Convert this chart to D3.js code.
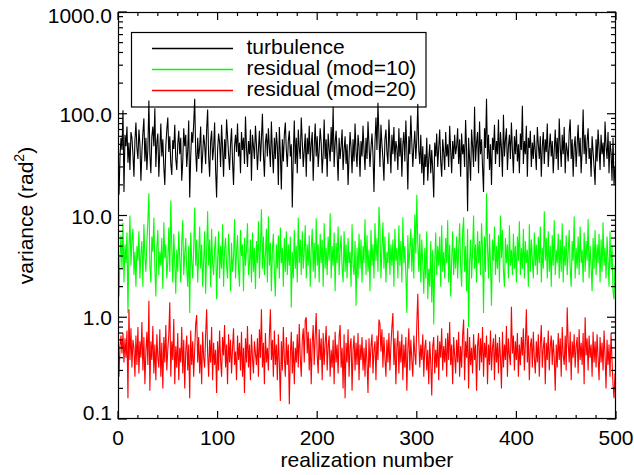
<!DOCTYPE html>
<html>
<head>
<meta charset="utf-8">
<script src="https://cdn.jsdelivr.net/npm/d3@7"></script>
<style>
  body { margin: 0; background: #fff; }
  svg { display: block; }
  text { font-family: "Liberation Sans", Arial, Helvetica, sans-serif; fill: #000; }
</style>
</head>
<body>
<svg id="chart" width="634" height="475"></svg>
<script>
// variance per realization
const turbulence = [
  30, 16, 38, 58, 44, 108, 17, 62, 48, 75, 33, 52, 28, 66, 58, 40, 24, 55, 82, 46,
  36, 70, 50, 22, 42, 65, 90, 34, 58, 28, 46, 135, 40, 26, 60, 75, 48, 113, 30, 52,
  64, 24, 44, 80, 38, 56, 30, 20, 48, 70, 92, 42, 60, 32, 25, 55, 45, 78, 36, 28,
  50, 68, 40, 58, 22, 34, 72, 48, 62, 30, 44, 86, 15, 38, 66, 52, 80, 140, 42, 27,
  58, 36, 48, 75, 26, 40, 62, 50, 32, 70, 110, 38, 24, 54, 68, 35, 46, 82, 28, 15,
  44, 64, 52, 30, 78, 46, 24, 56, 36, 88, 60, 40, 28, 50, 72, 34, 20, 48, 62, 42,
  80, 38, 52, 26, 66, 44, 58, 32, 94, 46, 30, 54, 40, 70, 22, 62, 48, 36, 76, 50,
  28, 45, 68, 34, 56, 100, 40, 24, 52, 64, 38, 72, 46, 30, 84, 42, 26, 58, 36, 66,
  48, 20, 74, 40, 18, 56, 34, 62, 82, 44, 30, 54, 68, 38, 50, 12, 40, 86, 32, 58,
  26, 70, 46, 36, 92, 54, 30, 44, 64, 24, 58, 40, 76, 34, 50, 66, 22, 48, 80, 38,
  60, 30, 44, 72, 52, 26, 40, 88, 36, 56, 24, 64, 46, 34, 74, 42, 117, 30, 52, 68,
  40, 22, 58, 36, 48, 70, 28, 44, 60, 32, 50, 20, 38, 66, 46, 26, 56, 34, 80, 42,
  30, 62, 48, 24, 54, 38, 76, 44, 28, 58, 36, 84, 50, 30, 46, 64, 40, 17, 52, 92,
  44, 128, 60, 30, 78, 50, 36, 22, 56, 70, 42, 32, 88, 48, 26, 62, 40, 74, 34, 54,
  46, 28, 72, 38, 58, 24, 50, 66, 34, 86, 44, 18, 60, 40, 96, 52, 30, 48, 68, 36,
  56, 125, 44, 32, 62, 26, 48, 20, 40, 30, 58, 22, 36, 50, 26, 44, 28, 15, 52, 38,
  64, 30, 46, 70, 34, 24, 56, 42, 28, 66, 38, 50, 30, 76, 44, 26, 54, 36, 62, 40,
  48, 72, 32, 56, 24, 64, 40, 50, 30, 87, 44, 11, 58, 36, 22, 70, 48, 30, 117, 34,
  52, 66, 26, 84, 40, 56, 30, 17, 72, 46, 140, 36, 62, 28, 50, 20, 58, 44, 78, 32,
  54, 40, 88, 30, 66, 46, 24, 98, 38, 56, 72, 28, 48, 62, 36, 82, 44, 26, 60, 40,
  70, 34, 50, 26, 64, 44, 120, 32, 54, 40, 76, 24, 58, 46, 68, 30, 52, 36, 62, 42,
  28, 74, 50, 36, 60, 24, 48, 66, 32, 56, 42, 80, 30, 46, 64, 38, 54, 26, 44, 70,
  36, 58, 28, 90, 48, 30, 62, 40, 74, 26, 52, 44, 34, 66, 88, 36, 56, 24, 48, 60,
  30, 50, 78, 38, 58, 26, 44, 110, 40, 62, 32, 54, 72, 36, 46, 24, 60, 42, 30, 20,
  56, 34, 70, 46, 28, 62, 40, 52, 30, 84, 48, 36, 66, 26, 54, 42, 22, 58, 20, 30
];

const residualMod10 = [
  2.4, 1.6, 3.8, 6.4, 3.0, 8.5, 2.2, 5.2, 3.4, 6.8, 1.1, 4.6, 10.0, 3.2, 5.8, 7.4, 2.6, 4.4, 2.0, 5.0,
  3.6, 7.0, 2.4, 4.2, 5.6, 2.0, 8.2, 4.0, 2.8, 5.4, 9.0, 16.5, 3.2, 2.2, 6.2, 4.4, 9.5, 3.0, 1.6, 4.8,
  7.2, 2.6, 4.4, 3.2, 6.0, 1.9, 8.6, 3.8, 5.2, 2.4, 3.6, 7.6, 2.8, 14.0, 5.0, 2.2, 6.6, 3.4, 1.7, 4.6,
  2.8, 7.0, 3.8, 2.2, 5.4, 9.0, 2.6, 4.2, 6.0, 3.0, 2.0, 5.0, 1.1, 6.8, 3.6, 2.4, 4.8, 12.0, 3.2, 5.8,
  2.2, 4.0, 7.8, 3.0, 5.2, 2.0, 3.6, 7.0, 1.7, 4.4, 11.0, 3.2, 5.8, 2.0, 7.4, 3.4, 2.6, 4.8, 6.2, 1.5,
  3.6, 7.0, 2.4, 5.0, 3.0, 8.2, 2.0, 4.6, 6.0, 3.2, 2.4, 6.6, 4.0, 1.8, 5.4, 2.8, 3.8, 9.2, 2.4, 4.4,
  6.4, 3.0, 2.0, 7.2, 4.0, 5.2, 1.8, 6.0, 3.2, 4.6, 8.4, 2.6, 3.4, 5.8, 2.2, 6.8, 2.8, 4.8, 1.9, 5.6,
  3.4, 8.8, 2.4, 5.0, 11.5, 3.0, 6.2, 2.6, 4.2, 7.4, 2.2, 9.8, 3.2, 5.4, 1.8, 4.6, 6.6, 2.8, 1.6, 5.2,
  3.0, 6.4, 2.4, 7.6, 3.4, 4.8, 2.0, 6.0, 2.8, 7.0, 2.6, 5.2, 3.2, 6.2, 1.25, 4.4, 2.4, 7.2, 3.0, 5.0,
  2.2, 9.5, 3.4, 5.8, 2.6, 7.0, 3.0, 4.4, 8.0, 2.4, 5.2, 3.2, 6.4, 2.0, 4.8, 7.4, 2.8, 5.4, 2.4, 9.4,
  3.2, 5.2, 2.2, 6.6, 3.4, 5.8, 2.0, 8.4, 3.0, 4.8, 2.6, 6.2, 3.6, 10.5, 2.4, 5.0, 3.2, 6.8, 1.8, 5.4,
  3.4, 7.8, 2.6, 4.6, 6.4, 3.0, 2.2, 7.0, 2.8, 5.2, 2.4, 6.0, 3.4, 4.4, 2.0, 8.2, 3.2, 2.6, 5.6, 1.3,
  4.8, 2.4, 6.6, 3.0, 5.8, 2.2, 5.0, 3.4, 9.2, 2.6, 6.4, 2.8, 4.6, 1.8, 7.2, 3.2, 5.2, 2.4, 8.4, 3.6,
  6.0, 2.8, 12.2, 7.4, 2.4, 4.8, 8.6, 3.0, 6.2, 2.2, 4.4, 3.4, 6.8, 2.6, 5.2, 3.2, 5.8, 2.0, 7.4, 3.6,
  4.8, 2.4, 8.0, 3.2, 5.6, 2.2, 9.6, 3.4, 5.0, 2.6, 1.1, 6.4, 3.0, 4.6, 7.4, 2.8, 6.0, 2.4, 10.2, 4.2,
  16.0, 5.2, 2.8, 6.6, 2.2, 5.8, 3.4, 1.7, 4.8, 2.4, 7.0, 1.5, 3.0, 2.0, 5.6, 1.4, 4.6, 0.85, 3.4, 6.8,
  2.6, 5.0, 3.2, 6.2, 2.0, 8.0, 2.8, 4.4, 2.4, 6.0, 3.4, 9.0, 2.2, 5.2, 1.6, 3.6, 7.0, 2.6, 4.8, 3.0,
  6.2, 2.4, 4.6, 8.4, 3.2, 2.0, 6.8, 9.6, 2.8, 5.0, 1.8, 7.4, 0.8, 3.4, 5.8, 2.4, 4.4, 10.0, 3.0, 5.2,
  2.2, 7.0, 3.4, 5.6, 2.6, 8.4, 4.6, 1.1, 6.2, 2.8, 16.5, 4.8, 2.4, 6.6, 3.2, 1.3, 5.8, 3.6, 7.8, 2.6,
  5.0, 3.0, 6.4, 2.2, 10.0, 3.8, 7.2, 2.8, 2.0, 6.0, 3.4, 5.2, 2.4, 8.0, 3.2, 4.6, 2.6, 6.6, 3.0, 5.0,
  2.2, 6.2, 3.6, 8.8, 2.6, 4.8, 3.0, 7.4, 2.4, 5.6, 3.4, 4.6, 2.0, 8.2, 2.8, 5.8, 3.8, 2.4, 6.8, 3.2,
  5.2, 2.6, 6.2, 3.4, 7.8, 2.2, 4.8, 3.0, 11.0, 3.6, 6.0, 2.4, 7.0, 2.8, 5.0, 2.0, 6.4, 3.2, 9.0, 2.6,
  4.6, 3.4, 6.6, 2.4, 5.8, 2.8, 8.4, 2.2, 5.0, 3.2, 6.4, 2.6, 4.4, 7.2, 3.0, 2.0, 5.6, 3.6, 9.8, 2.4,
  4.8, 3.0, 6.2, 2.6, 7.8, 3.4, 4.6, 2.2, 6.8, 2.8, 5.6, 3.6, 9.2, 2.4, 5.0, 3.2, 1.8, 6.0, 3.0, 7.2,
  2.6, 5.2, 3.4, 6.6, 2.2, 5.8, 2.8, 8.6, 3.2, 4.8, 2.4, 6.2, 3.6, 2.0, 7.0, 3.0, 5.0, 1.8, 1.5, 3.2
];

const residualMod20 = [
  0.30, 0.26, 0.52, 0.66, 0.44, 0.70, 0.36, 0.62, 0.40, 0.74, 0.16, 1.20, 0.38, 0.78, 0.32, 0.60, 0.50, 0.26, 0.66, 0.34,
  0.80, 0.28, 0.58, 0.40, 0.90, 0.30, 0.64, 0.22, 0.46, 0.72, 0.34, 1.45, 0.19, 0.58, 0.38, 0.82, 0.28, 0.54, 0.24, 0.68,
  0.40, 0.32, 0.76, 0.26, 0.56, 0.20, 0.64, 0.36, 0.84, 0.30, 0.48, 0.68, 1.40, 0.26, 0.58, 0.38, 0.96, 0.22, 0.52, 0.32,
  0.70, 0.24, 0.50, 0.36, 0.80, 0.28, 0.60, 0.20, 0.46, 0.66, 0.30, 0.54, 0.16, 0.74, 0.34, 0.58, 0.26, 0.48, 0.86, 1.05,
  0.36, 0.64, 0.28, 0.54, 0.22, 0.72, 0.40, 0.32, 0.68, 1.20, 0.44, 0.26, 0.60, 0.36, 0.80, 0.24, 0.56, 0.34, 0.48, 0.18,
  0.58, 0.30, 0.74, 0.38, 0.26, 0.64, 0.42, 0.84, 0.32, 0.54, 0.22, 0.68, 0.36, 0.60, 0.28, 0.50, 0.78, 0.34, 0.46, 0.24,
  0.66, 0.38, 0.56, 0.30, 0.72, 0.26, 0.50, 0.18, 0.62, 0.36, 0.82, 0.32, 0.54, 0.24, 0.68, 0.40, 0.28, 0.58, 0.44, 0.34,
  0.62, 0.26, 0.76, 0.40, 1.20, 0.32, 0.56, 0.22, 0.70, 0.36, 0.50, 0.30, 0.66, 1.20, 0.38, 0.60, 0.26, 0.74, 0.34, 0.54,
  0.24, 0.68, 0.36, 0.15, 0.58, 0.30, 0.80, 0.40, 0.26, 0.64, 0.34, 0.54, 0.14, 0.42, 0.72, 0.28, 0.58, 0.22, 0.50, 0.36,
  0.68, 0.32, 0.86, 0.40, 0.26, 0.60, 0.78, 0.36, 0.94, 1.00, 0.44, 0.72, 0.30, 0.62, 0.22, 0.56, 0.84, 0.34, 0.66, 1.10,
  0.42, 0.28, 0.76, 0.38, 0.62, 0.24, 0.70, 0.34, 0.56, 0.82, 0.30, 0.52, 0.66, 0.26, 0.48, 0.32, 0.60, 0.22, 0.72, 0.36,
  0.54, 0.28, 0.64, 0.84, 0.32, 0.50, 0.20, 0.68, 0.16, 0.56, 0.36, 0.76, 0.26, 0.52, 0.62, 0.19, 0.48, 0.66, 0.30, 0.56,
  0.34, 0.70, 0.24, 0.54, 0.38, 0.64, 0.30, 0.50, 0.26, 0.60, 0.36, 0.18, 0.62, 0.32, 0.52, 0.68, 0.28, 0.48, 0.58, 0.24,
  0.66, 0.38, 0.95, 0.86, 0.46, 0.76, 0.32, 0.64, 0.40, 0.26, 0.60, 0.36, 0.70, 0.30, 0.52, 0.80, 1.10, 0.34, 0.62, 0.22,
  0.50, 0.74, 0.28, 0.58, 0.36, 0.68, 0.24, 0.54, 0.32, 0.64, 0.19, 0.48, 0.78, 0.30, 0.60, 0.38, 0.26, 0.66, 0.44, 0.34,
  0.86, 1.70, 0.60, 0.32, 0.54, 0.38, 0.68, 0.26, 0.50, 0.60, 0.30, 0.48, 0.22, 0.58, 0.36, 0.17, 0.52, 0.64, 0.28, 0.48,
  0.32, 0.66, 0.24, 0.58, 0.40, 0.78, 0.30, 0.52, 0.36, 0.62, 0.26, 0.70, 0.38, 0.90, 0.34, 0.54, 0.22, 0.64, 0.42, 0.28,
  0.60, 0.36, 0.72, 0.26, 0.52, 0.32, 0.66, 0.95, 0.24, 0.58, 0.40, 0.78, 0.20, 0.64, 0.34, 0.50, 0.28, 0.68, 0.38, 0.54,
  0.19, 0.52, 0.70, 0.30, 0.62, 0.36, 0.80, 0.26, 0.56, 0.40, 0.66, 0.22, 0.54, 0.34, 0.74, 0.30, 0.50, 0.62, 0.24, 0.68,
  0.36, 0.56, 0.28, 0.64, 0.40, 0.20, 0.72, 0.32, 0.54, 0.38, 0.82, 0.26, 0.62, 0.42, 0.34, 1.27, 0.44, 0.66, 0.30, 0.58,
  0.38, 0.70, 0.26, 0.54, 0.34, 0.64, 0.42, 0.78, 0.30, 0.56, 1.20, 0.36, 0.66, 0.24, 0.52, 0.62, 0.32, 0.72, 0.40, 0.28,
  0.58, 0.36, 0.68, 0.26, 0.54, 0.84, 0.32, 0.50, 0.64, 0.22, 0.56, 0.38, 0.74, 0.30, 0.52, 0.66, 0.34, 0.60, 0.40, 0.19,
  0.54, 0.32, 0.70, 0.38, 0.62, 0.26, 0.80, 0.42, 0.34, 0.66, 0.30, 1.25, 0.56, 0.36, 0.72, 0.24, 0.58, 0.40, 0.68, 0.32,
  0.52, 0.64, 0.28, 0.76, 0.38, 0.56, 0.34, 0.70, 0.22, 1.00, 0.42, 0.62, 0.30, 0.66, 0.40, 0.54, 0.26, 0.72, 0.36, 0.58,
  0.32, 0.68, 0.40, 0.24, 0.64, 0.36, 0.56, 0.30, 0.74, 0.42, 0.20, 0.60, 0.34, 0.54, 0.26, 0.70, 0.38, 0.22, 0.16, 0.28
];

const seriesNames = ["turbulence", "residual (mod=10)", "residual (mod=20)"];
const seriesColors = ["#000000", "#00ff00", "#ff0000"];

const xTicks = [0, 100, 200, 300, 400, 500];
const xTickLabels = ["0", "100", "200", "300", "400", "500"];
const yTicks = [0.1, 1, 10, 100, 1000];
const yTickLabels = ["0.1", "1.0", "10.0", "100.0", "1000.0"];

const margin = { left: 118, top: 12, right: 616, bottom: 419 };

const svg = d3.select("#chart");

const x = d3.scaleLinear().domain([0, 500]).range([margin.left, margin.right]);
const y = d3.scaleLog().domain([0.1, 1000]).range([margin.bottom, margin.top]);

svg.append("clipPath").attr("id", "plot-clip")
  .append("rect")
  .attr("x", margin.left).attr("y", margin.top)
  .attr("width", margin.right - margin.left)
  .attr("height", margin.bottom - margin.top);

// data lines
const line = d3.line()
  .x(function (d, i) { return x(i); })
  .y(function (d) { return y(d); });

const plot = svg.append("g").attr("clip-path", "url(#plot-clip)");
[turbulence, residualMod10, residualMod20].forEach(function (s, k) {
  plot.append("path")
    .datum(s)
    .attr("fill", "none")
    .attr("stroke", seriesColors[k])
    .attr("stroke-width", 1.1)
    .attr("d", line);
});

// frame
svg.append("rect")
  .attr("x", margin.left + 0.5).attr("y", margin.top + 0.5)
  .attr("width", margin.right - margin.left - 1)
  .attr("height", margin.bottom - margin.top - 1)
  .attr("fill", "none").attr("stroke", "#000").attr("stroke-width", 1.2);

// ticks (IDL style, pointing inward on all four sides)
const xMinor = d3.range(0, 501, 20).filter(function (v) { return v % 100 !== 0; });
const yMinor = [];
yTicks.slice(0, -1).forEach(function (t) {
  d3.range(2, 10).forEach(function (m) { yMinor.push(t * m); });
});

const ticks = svg.append("g").attr("stroke", "#000").attr("stroke-width", 1.2);

function xTickLines(values, len) {
  ticks.selectAll(null).data(values).enter().append("line")
    .attr("x1", function (d) { return x(d); }).attr("x2", function (d) { return x(d); })
    .attr("y1", margin.bottom).attr("y2", margin.bottom - len);
  ticks.selectAll(null).data(values).enter().append("line")
    .attr("x1", function (d) { return x(d); }).attr("x2", function (d) { return x(d); })
    .attr("y1", margin.top).attr("y2", margin.top + len);
}
function yTickLines(values, len) {
  ticks.selectAll(null).data(values).enter().append("line")
    .attr("y1", function (d) { return y(d); }).attr("y2", function (d) { return y(d); })
    .attr("x1", margin.left).attr("x2", margin.left + len);
  ticks.selectAll(null).data(values).enter().append("line")
    .attr("y1", function (d) { return y(d); }).attr("y2", function (d) { return y(d); })
    .attr("x1", margin.right).attr("x2", margin.right - len);
}
xTickLines(xTicks, 8);
xTickLines(xMinor, 4);
yTickLines(yTicks, 9);
yTickLines(yMinor, 5);

// tick labels
svg.append("g").selectAll("text").data(xTicks).enter().append("text")
  .attr("x", function (d) { return x(d); })
  .attr("y", 445)
  .attr("text-anchor", "middle")
  .attr("font-size", 21)
  .text(function (d, i) { return xTickLabels[i]; });

svg.append("g").selectAll("text").data(yTicks).enter().append("text")
  .attr("x", 112)
  .attr("y", function (d) {
    return Math.min(Math.max(y(d) + 8, margin.top + 11), margin.bottom + 1);
  })
  .attr("text-anchor", "end")
  .attr("font-size", 21)
  .text(function (d, i) { return yTickLabels[i]; });

// axis titles
svg.append("text")
  .attr("x", (margin.left + margin.right) / 2)
  .attr("y", 467)
  .attr("text-anchor", "middle")
  .attr("font-size", 21)
  .text("realization number");

const yTitle = svg.append("text")
  .attr("transform", "translate(33," + (margin.top + margin.bottom) / 2 + ") rotate(-90)")
  .attr("text-anchor", "middle")
  .attr("font-size", 21);
yTitle.append("tspan").text("variance (rad");
yTitle.append("tspan").attr("font-size", 14).attr("dy", -9).text("2");
yTitle.append("tspan").attr("dy", 9).text(")");

// legend
const legend = svg.append("g");
legend.append("rect")
  .attr("x", 131.5).attr("y", 32.5)
  .attr("width", 294.5).attr("height", 74.5)
  .attr("fill", "none").attr("stroke", "#000").attr("stroke-width", 1.2);

const legendY = [48.5, 69.5, 90.5];
seriesNames.forEach(function (name, k) {
  legend.append("line")
    .attr("x1", 152).attr("x2", 233)
    .attr("y1", legendY[k]).attr("y2", legendY[k])
    .attr("stroke", seriesColors[k]).attr("stroke-width", 1.5);
  legend.append("text")
    .attr("x", 246.5).attr("y", legendY[k] + 5.5)
    .attr("font-size", 21)
    .text(name);
});
</script>
</body>
</html>
